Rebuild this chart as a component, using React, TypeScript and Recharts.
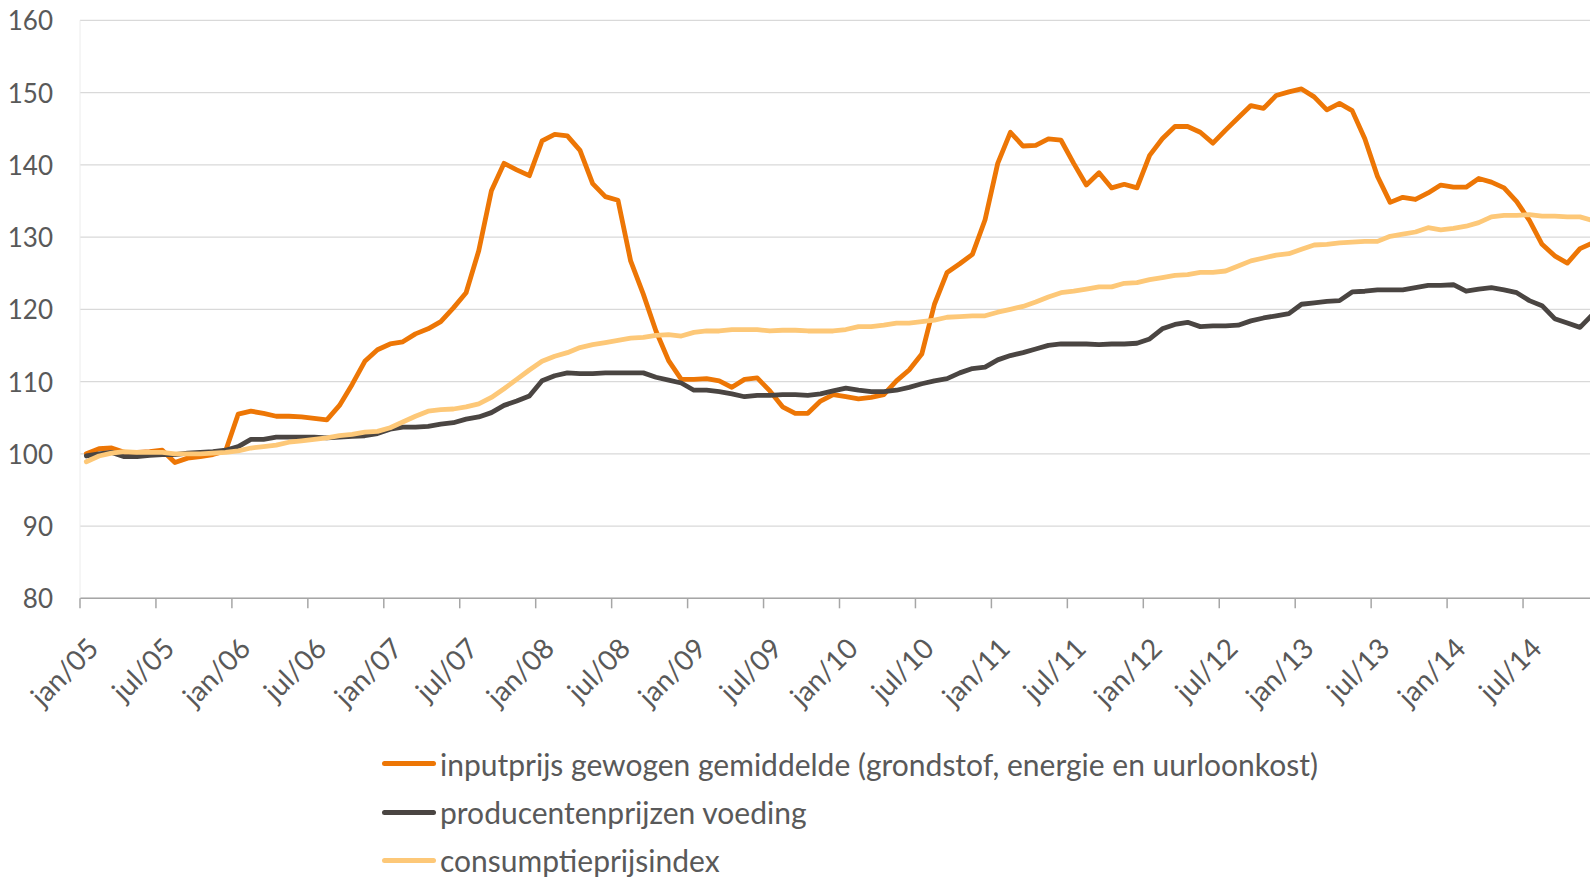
import React from 'react';
import { LineChart, Line, XAxis, YAxis, CartesianGrid } from 'recharts';

const monthNames = ['jan', 'feb', 'mrt', 'apr', 'mei', 'jun', 'jul', 'aug', 'sep', 'okt', 'nov', 'dec'];
const years = ['05', '06', '07', '08', '09', '10', '11', '12', '13', '14'];
const yTicks = [80, 90, 100, 110, 120, 130, 140, 150, 160];

const inputprijs = [
  100.0, 100.7, 100.8, 100.2, 100.2, 100.3, 100.5, 98.8, 99.4, 99.6, 99.9, 100.4,
  105.5, 105.9, 105.6, 105.2, 105.2, 105.1, 104.9, 104.7, 106.7, 109.6, 112.8, 114.4,
  115.2, 115.5, 116.6, 117.3, 118.3, 120.2, 122.3, 128.1, 136.4, 140.2, 139.3, 138.5,
  143.3, 144.2, 144.0, 142.0, 137.4, 135.6, 135.1, 126.7, 122.1, 117.0, 112.9, 110.3,
  110.3, 110.4, 110.1, 109.2, 110.3, 110.5, 108.7, 106.5, 105.6, 105.6, 107.3, 108.2,
  107.9, 107.6, 107.8, 108.2, 110.1, 111.6, 113.8, 120.7, 125.1, 126.3, 127.6, 132.4,
  140.2, 144.5, 142.6, 142.7, 143.6, 143.4, 140.2, 137.2, 138.9, 136.8, 137.3, 136.8,
  141.3, 143.6, 145.3, 145.3, 144.5, 143.0, 144.8, 146.5, 148.2, 147.8, 149.6, 150.1,
  150.5, 149.4, 147.6, 148.5, 147.5, 143.6, 138.4, 134.8, 135.5, 135.2, 136.1, 137.2,
  136.9, 136.9, 138.1, 137.6, 136.8, 134.9, 132.3, 129.0, 127.4, 126.4, 128.4, 129.2,
];

const producentenprijzen = [
  99.7, 100.0, 100.2, 99.6, 99.6, 99.8, 99.9, 99.9, 100.1, 100.2, 100.3, 100.5,
  101.0, 102.0, 102.0, 102.3, 102.3, 102.3, 102.3, 102.2, 102.3, 102.4, 102.5, 102.8,
  103.4, 103.7, 103.7, 103.8, 104.1, 104.3, 104.8, 105.1, 105.7, 106.7, 107.3, 108.0,
  110.1, 110.8, 111.2, 111.1, 111.1, 111.2, 111.2, 111.2, 111.2, 110.6, 110.2, 109.8,
  108.8, 108.8, 108.6, 108.3, 107.9, 108.1, 108.1, 108.2, 108.2, 108.1, 108.3, 108.7,
  109.1, 108.8, 108.6, 108.6, 108.8, 109.2, 109.7, 110.1, 110.4, 111.2, 111.8, 112.0,
  113.0, 113.6, 114.0, 114.5, 115.0, 115.2, 115.2, 115.2, 115.1, 115.2, 115.2, 115.3,
  115.9, 117.3, 117.9, 118.2, 117.6, 117.7, 117.7, 117.8, 118.4, 118.8, 119.1, 119.4,
  120.7, 120.9, 121.1, 121.2, 122.4, 122.5, 122.7, 122.7, 122.7, 123.0, 123.3, 123.3,
  123.4, 122.5, 122.8, 123.0, 122.7, 122.3, 121.2, 120.5, 118.7, 118.1, 117.5, 119.3,
];

const consumptieprijsindex = [
  98.9, 99.7, 100.1, 100.3, 100.2, 100.2, 100.2, 100.0, 100.0, 100.0, 100.1, 100.2,
  100.4, 100.8, 101.0, 101.2, 101.6, 101.8, 102.0, 102.2, 102.5, 102.7, 103.0, 103.1,
  103.6, 104.4, 105.2, 105.9, 106.1, 106.2, 106.5, 106.9, 107.8, 109.0, 110.3, 111.6,
  112.8, 113.5, 114.0, 114.7, 115.1, 115.4, 115.7, 116.0, 116.1, 116.4, 116.5, 116.3,
  116.8, 117.0, 117.0, 117.2, 117.2, 117.2, 117.0, 117.1, 117.1, 117.0, 117.0, 117.0,
  117.2, 117.6, 117.6, 117.8, 118.1, 118.1, 118.3, 118.5, 118.9, 119.0, 119.1, 119.1,
  119.6, 120.0, 120.4, 121.0, 121.7, 122.3, 122.5, 122.8, 123.1, 123.1, 123.6, 123.7,
  124.1, 124.4, 124.7, 124.8, 125.1, 125.1, 125.3, 126.0, 126.7, 127.1, 127.5, 127.7,
  128.3, 128.9, 129.0, 129.2, 129.3, 129.4, 129.4, 130.1, 130.4, 130.7, 131.3, 131.0,
  131.2, 131.5, 132.0, 132.8, 133.0, 133.0, 133.1, 132.9, 132.9, 132.8, 132.8, 132.3,
];

const seriesKeys = ['inputprijs', 'producentenprijzen', 'consumptieprijsindex'];
const seriesNames = [
  'inputprijs gewogen gemiddelde (grondstof, energie en uurloonkost)',
  'producentenprijzen voeding',
  'consumptieprijsindex',
];
const seriesColors = ['#ED7605', '#4A4542', '#FDC878'];

const months = years.flatMap((y) => monthNames.map((m) => `${m}/${y}`));
const data = months.map((m, i) => ({
  m,
  inputprijs: inputprijs[i],
  producentenprijzen: producentenprijzen[i],
  consumptieprijsindex: consumptieprijsindex[i],
}));

const FONT = 'Lato, "Open Sans", sans-serif';
const TEXT = '#595959';
const HALF_STEP = 6.33;

const XTick = (props: any) => {
  const { x, y, payload } = props;
  const bx = x - HALF_STEP;
  const ax = x + 14;
  const ay = y + 52;
  return (
    <g>
      <line x1={bx} x2={bx} y1={y} y2={y + 10} stroke="#A6A6A6" strokeWidth={1.5} />
      <text
        x={ax}
        y={ay}
        textAnchor="end"
        transform={`rotate(-45, ${ax}, ${ay})`}
        fontFamily={FONT}
        fontSize={28}
        fill={TEXT}
      >
        {payload.value}
      </text>
    </g>
  );
};

const YTick = (props: any) => {
  const { x, y, payload } = props;
  return (
    <text
      x={x - 27}
      y={y}
      textAnchor="end"
      dominantBaseline="central"
      fontFamily={FONT}
      fontSize={26}
      fill={TEXT}
    >
      {payload.value}
    </text>
  );
};

const legendRowsY = [763.5, 812, 860];

export default function App() {
  return (
    <div
      style={{
        position: 'absolute',
        left: 0,
        top: 0,
        width: 1590,
        height: 877,
        overflow: 'hidden',
        background: '#ffffff',
      }}
    >
      <LineChart
        width={1600}
        height={877}
        data={data}
        margin={{ top: 20.3, right: 1, bottom: 0, left: 0 }}
      >
        <CartesianGrid vertical={false} stroke="#D9D9D9" strokeWidth={1.3} />
        <XAxis
          dataKey="m"
          interval={5}
          height={278.7}
          tickLine={false}
          tickSize={0}
          tickMargin={0}
          axisLine={{ stroke: '#A6A6A6', strokeWidth: 1.5 }}
          padding={{ left: HALF_STEP, right: HALF_STEP }}
          tick={<XTick />}
        />
        <YAxis
          domain={[80, 160]}
          ticks={yTicks}
          width={80}
          tickLine={false}
          tickSize={0}
          tickMargin={0}
          axisLine={{ stroke: '#ECECEC', strokeWidth: 1 }}
          tick={<YTick />}
          allowDataOverflow
        />
        {seriesKeys.map((k, i) => (
          <Line
            key={k}
            dataKey={k}
            name={seriesNames[i]}
            type="linear"
            stroke={seriesColors[i]}
            strokeWidth={4.8}
            dot={false}
            activeDot={false}
            strokeLinejoin="round"
            strokeLinecap="round"
            isAnimationActive={false}
          />
        ))}
      </LineChart>
      {seriesNames.map((n, i) => (
        <div
          key={n}
          style={{
            position: 'absolute',
            left: 382,
            top: legendRowsY[i] - 24,
            height: 48,
            display: 'flex',
            alignItems: 'center',
            whiteSpace: 'nowrap',
          }}
        >
          <div
            style={{
              width: 54,
              height: 5,
              borderRadius: 3,
              background: seriesColors[i],
              marginRight: 4,
            }}
          />
          <span style={{ fontFamily: FONT, fontSize: 30, color: TEXT, lineHeight: '48px' }}>{n}</span>
        </div>
      ))}
    </div>
  );
}
